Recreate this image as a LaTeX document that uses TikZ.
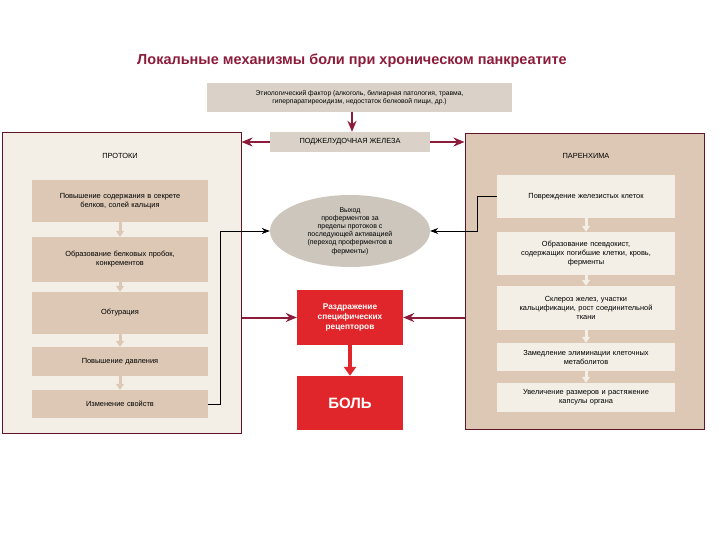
\documentclass[tikz,border=0pt]{standalone}
\usepackage{fontspec}
\setmainfont{Liberation Sans}
\usetikzlibrary{arrows.meta,shapes.geometric}
\definecolor{wine}{HTML}{8C1C3A}
\definecolor{cream}{HTML}{F3EFE6}
\definecolor{tan}{HTML}{DCC8B4}
\definecolor{greybeige}{HTML}{DAD2C8}
\definecolor{alarm}{HTML}{E1262B}
\begin{document}
\begin{tikzpicture}
	[x=1pt, y=-1pt,
	every node/.style = {align=center, inner sep=2pt, font=\fontsize{7.4}{9}\selectfont},
	panel/.style = {draw=wine!70!black, line width=1pt, minimum width=239pt},
	ductbox/.style = {fill=tan, minimum width=176pt, text width=170pt},
	parbox/.style = {fill=cream, minimum width=178pt, text width=172pt},
	redbox/.style = {fill=alarm, text=white, minimum width=106pt, font=\bfseries\fontsize{8.3}{9.8}\selectfont},
	wino/.style = {-{Stealth[length=11pt,width=9pt]}, wine, line width=2pt},
	thin/.style = {-{Stealth[length=8pt,width=6pt]}, black, line width=0.7pt},
	down/.style = {-{Triangle[length=6pt,width=8pt]}, line width=3pt}]
	\useasboundingbox (0,0) rectangle (720,540);
	% title
	\node (title) at (352,61) {\color{wine}\bfseries\fontsize{14.5}{16}\selectfont Локальные механизмы боли при хроническом панкреатите};
	\node[fill=greybeige, minimum width=305pt, minimum height=29pt, font=\fontsize{6.8}{8.2}\selectfont] (cause) at (359.5,97.5)
		{Этиологический фактор (алкоголь, билиарная патология, травма,\\ гиперпаратиреоидизм, недостаток белковой пищи, др.)};
	\node[fill=greybeige, minimum width=160pt, minimum height=20pt] (gland) at (350,142) {ПОДЖЕЛУДОЧНАЯ ЖЕЛЕЗА};
	\coordinate (axis) at (352,0);
	% panels
	\node[panel, fill=cream, minimum height=300pt] (ducts) at (121.5,283) {};
	\node[panel, fill=tan, minimum height=295pt] (paren) at (584.5,281.5) {};
	\node (dtitle) at (120,156) {ПРОТОКИ};
	\node (ptitle) at (586,156) {ПАРЕНХИМА};
	% ducts chain
	\node[ductbox, minimum height=42pt] (d1) at (120,201) {Повышение содержания в секрете\\ белков, солей кальция};
	\node[ductbox, minimum height=45pt] (d2) at (120,259.5) {Образование белковых пробок,\\ конкрементов};
	\node[ductbox, minimum height=42pt] (d3) at (120,313) {Обтурация};
	\node[ductbox, minimum height=29pt] (d4) at (120,361.5) {Повышение давления};
	\node[ductbox, minimum height=28pt] (d5) at (120,404) {Изменение свойств};
	% parenchyma chain
	\node[parbox, minimum height=43pt] (p1) at (586,196.5) {Повреждение железистых клеток};
	\node[parbox, minimum height=43pt] (p2) at (586,253.5) {Образование псевдокист,\\ содержащих погибшие клетки, кровь,\\ ферменты};
	\node[parbox, minimum height=44pt] (p3) at (586,308) {Склероз желез, участки\\ кальцификации, рост соединительной\\ ткани};
	\node[parbox, minimum height=28pt] (p4) at (586,357) {Замедление элиминации клеточных\\ метаболитов};
	\node[parbox, minimum height=29pt] (p5) at (586,397.5) {Увеличение размеров и растяжение\\ капсулы органа};
	% centre
	\node[ellipse, fill=greybeige!85!gray, minimum width=160pt, minimum height=72pt, inner sep=0pt, font=\fontsize{7}{8.2}\selectfont] (ell) at (350,231)
		{Выход\\ проферментов за\\ пределы протоков с\\ последующей активацией\\ (переход проферментов в\\ ферменты)};
	\node[redbox, minimum height=55pt] (irrit) at (350,317.5) {Раздражение\\ специфических\\ рецепторов};
	\node[redbox, minimum height=54pt, font=\bfseries\fontsize{15}{17}\selectfont] (pain) at (350,403) {БОЛЬ};
	% connectors
	\draw[wino] (cause.south -| axis) -- (gland.north -| axis);
	\draw[wino] (gland) -- (ducts.east |- gland);
	\draw[wino] (gland) -- (paren.west |- gland);
	\foreach \a/\b in {d1/d2,d2/d3,d3/d4,d4/d5}
		\draw[down, tan] (\a.south) -- (\b.north);
	\foreach \a/\b in {p1/p2,p2/p3,p3/p4,p4/p5}
		\draw[down, cream] (\a.south) -- (\b.north);
	\draw[thin] (d5.east) -- ++(12,0) |- (ell.west);
	\draw[thin] (p1.west) -- ++(-19,0) |- (ell.east);
	\draw[wino] (ducts.east |- irrit) -- (irrit.west);
	\draw[wino] (paren.west |- irrit) -- (irrit.east);
	\draw[-{Triangle[length=9pt,width=12pt]}, alarm, line width=4pt] (irrit) -- (pain);
\end{tikzpicture}
\end{document}
